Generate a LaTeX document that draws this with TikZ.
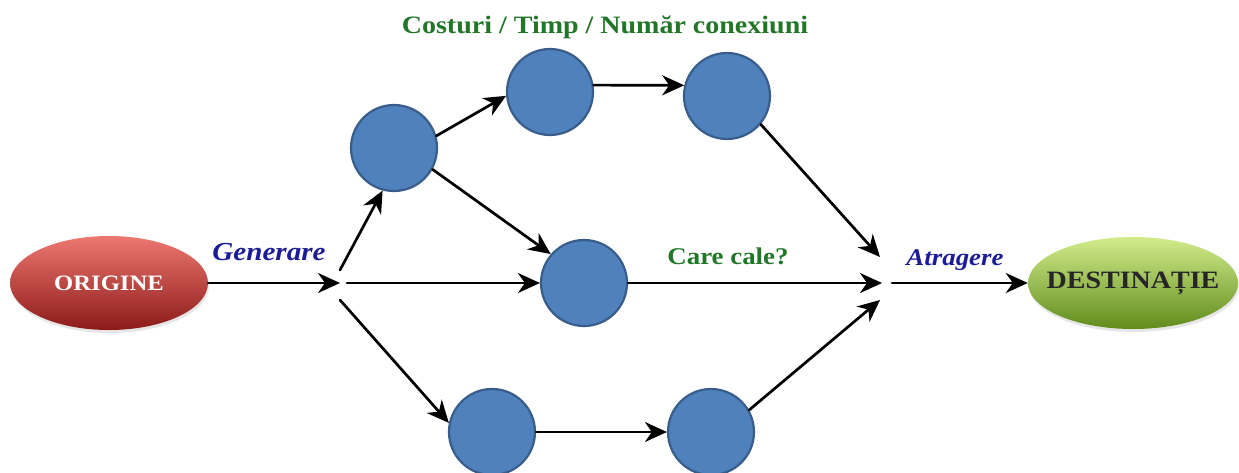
\documentclass[tikz,border=0pt]{standalone}
\usepackage{fontspec}
\setmainfont[FakeStretch=1.12]{Liberation Serif}
\usetikzlibrary{shapes.geometric,arrows.meta,calc,shadows}

\definecolor{stationblue}{RGB}{79,129,189}
\definecolor{stationedge}{RGB}{56,93,138}
\definecolor{labelgreen}{RGB}{34,118,40}
\definecolor{labelblue}{RGB}{28,28,150}
\definecolor{origtop}{RGB}{236,120,112}
\definecolor{origmid}{RGB}{204,48,44}
\definecolor{origbot}{RGB}{140,26,24}
\definecolor{desttop}{RGB}{210,236,140}
\definecolor{destmid}{RGB}{150,200,64}
\definecolor{destbot}{RGB}{96,140,28}

\tikzset{
  station/.style={circle, fill=stationblue, draw=stationedge, line width=2.2pt,
    minimum size=86pt, inner sep=0pt},
  endpoint/.style={ellipse, draw=none, inner sep=0pt, inner xsep=-14pt,
    drop shadow={opacity=0.2, shadow xshift=1pt, shadow yshift=-3pt},
    font=\fontsize{25}{30}\selectfont\bfseries},
  link/.style={line width=2.7pt, -{Stealth[length=22pt, width=20pt, inset=7pt]}},
  greentag/.style={text=labelgreen, font=\fontsize{24}{29}\selectfont\bfseries},
  bluetag/.style={text=labelblue, font=\fontsize{24}{29}\selectfont\bfseries\itshape},
}

\begin{document}
\begin{tikzpicture}[x=1pt, y=-1pt, line cap=round, line join=round]

  %% ════ 起点 / 终点 ════
  \node[endpoint, minimum width=198pt, minimum height=94pt, text=white,
        top color=origtop, middle color=origmid, bottom color=origbot,
        font=\fontsize{22}{27}\selectfont\bfseries] (orig) at (109,283) {ORIGINE};
  \node[endpoint, minimum width=210pt, minimum height=92pt, text=black!85,
        top color=desttop, middle color=destmid, bottom color=destbot] (dest) at (1133,283) {DESTINAȚIE};

  %% ════ 中间节点（圆）════
  \node[station] (n1) at (394,148) {};
  \node[station] (n2) at (550,92) {};
  \node[station] (n4) at (727,96) {};
  \node[station] (n3) at (584,283) {};
  \node[station] (n5) at (492,432) {};
  \node[station] (n6) at (711,432) {};

  %% 分叉点 / 汇合点
  \coordinate (gen) at (341,283);
  \coordinate (atr) at (887,283);

  %% ════ 连线 ════
  \draw[link] (orig.east) -- ($(gen)+(-1,0)$);
  \draw[link] ($(gen)+(-1,-13)$) -- (n1.255);
  \draw[link] ($(gen)+(6,0)$) -- (n3.west);
  \draw[link] ($(gen)+(-1,17)$) -- (n5.168);
  \draw[link] (n1.16) -- (n2.185);
  \draw[link] (n1.331) -- (n3.139);
  \draw[link] (n2.9) -- (n4.166);
  \draw[link] (n5.east) -- (n6.west);
  \draw[link] (n4.320) -- ($(atr)+(-7,-26)$);
  \draw[link] (n3.east) -- ($(atr)+(-5,0)$);
  \draw[link] (n6.30) -- ($(atr)+(-7,17)$);
  \draw[link] ($(atr)+(5,0)$) -- (dest.west);

  %% ════ 标签 ════
  \node[greentag, font=\fontsize{25}{30}\selectfont\bfseries] (cost) at (605,27) {Costuri / Timp / Număr conexiuni};
  \node[greentag] (which) at (728,256) {Care cale?};
  \node[bluetag, font=\fontsize{26}{31}\selectfont\bfseries\itshape] (genlbl) at (269,252) {Generare};
  \node[bluetag] (atrlbl) at (955,260) {Atragere};

  % 钉死画布
  \pgfresetboundingbox
  \path[use as bounding box] (0,0) rectangle (1239,472);
\end{tikzpicture}
\end{document}
